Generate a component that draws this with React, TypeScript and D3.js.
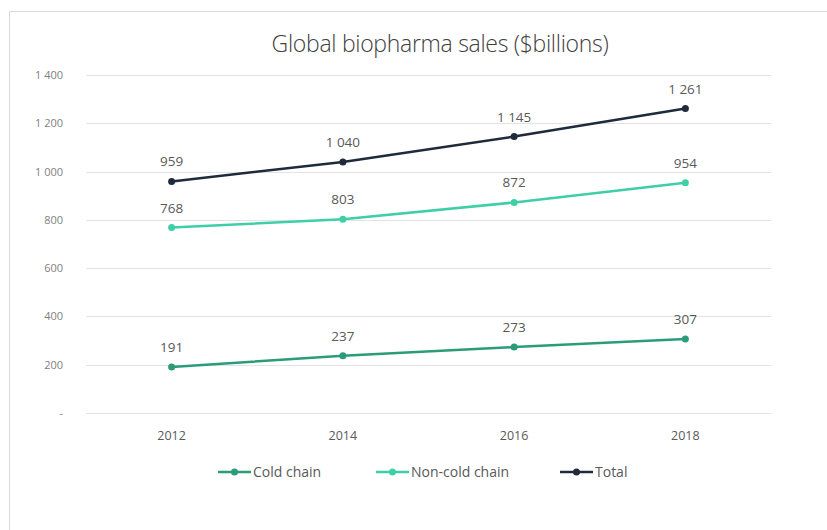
import React, { useEffect, useRef } from 'react';
import * as d3 from 'd3';

const years = ['2012', '2014', '2016', '2018'];
const coldChain = [191, 237, 273, 307];
const nonColdChain = [768, 803, 872, 954];
const total = [959, 1040, 1145, 1261];
const yTicks = [0, 200, 400, 600, 800, 1000, 1200, 1400];

const seriesNames = ['Cold chain', 'Non-cold chain', 'Total'];
const seriesColors = ['#2b9c78', '#3fcfa6', '#1f2a3b'];

const fmt = (v: number) => (v === 0 ? '-' : d3.format(',')(v).replace(/,/g, ' '));

export default function App() {
  const svgRef = useRef<SVGSVGElement>(null);

  useEffect(() => {
    const svg = d3.select(svgRef.current);
    svg.selectAll('*').remove();

    const W = 827;
    const H = 530;
    const left = 86, right = 771, top = 75, bottom = 413;
    const font = '"Open Sans", sans-serif';

    svg.attr('width', W).attr('height', H);

    // frame
    svg.append('rect').attr('width', W).attr('height', H).attr('fill', '#fff');
    svg.append('path').attr('d', `M9.5,${H} V11.5 H${W}`)
      .attr('fill', 'none').attr('stroke', '#d9d9d9').attr('stroke-width', 1);

    const x = d3.scalePoint<string>().domain(years).range([left, right]).padding(0.5);
    const y = d3.scaleLinear().domain([0, 1400]).range([bottom, top]);

    // title
    svg.append('text')
      .attr('x', 440).attr('y', 52)
      .attr('text-anchor', 'middle')
      .style('font-family', font)
      .style('font-weight', 300)
      .style('font-size', '23px')
      .style('letter-spacing', '-0.3px')
      .style('fill', '#404040')
      .text('Global biopharma sales ($billions)');

    // gridlines + y labels
    const grid = svg.append('g');
    grid.selectAll('line').data(yTicks).join('line')
      .attr('x1', left).attr('x2', right)
      .attr('y1', d => Math.round(y(d)) + 0.5).attr('y2', d => Math.round(y(d)) + 0.5)
      .attr('stroke', '#e3e3e3');
    grid.selectAll('text').data(yTicks).join('text')
      .attr('x', 63).attr('y', d => y(d) + 4)
      .attr('text-anchor', 'end')
      .style('font-family', font).style('font-size', '11px').style('fill', '#7f7f7f')
      .text(d => fmt(d));

    // x labels
    svg.append('g').selectAll('text').data(years).join('text')
      .attr('x', d => x(d)!).attr('y', 440)
      .attr('text-anchor', 'middle')
      .style('font-family', font).style('font-size', '12.5px').style('fill', '#595959')
      .text(d => d);

    const series = [coldChain, nonColdChain, total];
    const line = d3.line<number>().x((_, i) => x(years[i])!).y(d => y(d));

    series.forEach((vals, s) => {
      const g = svg.append('g');
      g.append('path').datum(vals)
        .attr('d', line)
        .attr('fill', 'none')
        .attr('stroke', seriesColors[s])
        .attr('stroke-width', 2.5);
      g.selectAll('circle').data(vals).join('circle')
        .attr('cx', (_, i) => x(years[i])!).attr('cy', d => y(d))
        .attr('r', 3.5).attr('fill', seriesColors[s]);
      g.selectAll('text').data(vals).join('text')
        .attr('x', (_, i) => x(years[i])!).attr('y', d => y(d) - 15)
        .attr('text-anchor', 'middle')
        .style('font-family', font).style('font-size', '13.5px').style('fill', '#595959')
        .text(d => fmt(d));
    });

    // legend
    const legendX = [218, 376, 560];
    const lg = svg.append('g');
    seriesNames.forEach((name, i) => {
      const lx = legendX[i];
      lg.append('line').attr('x1', lx).attr('x2', lx + 33).attr('y1', 472).attr('y2', 472)
        .attr('stroke', seriesColors[i]).attr('stroke-width', 2.5);
      lg.append('circle').attr('cx', lx + 16.5).attr('cy', 472).attr('r', 3.5).attr('fill', seriesColors[i]);
      lg.append('text').attr('x', lx + 35).attr('y', 477)
        .style('font-family', font).style('font-size', '14px').style('fill', '#595959')
        .text(name);
    });
  }, []);

  return (
    <div style={{ position: 'absolute', left: 0, top: 0 }}>
      <svg ref={svgRef}></svg>
    </div>
  );
}
